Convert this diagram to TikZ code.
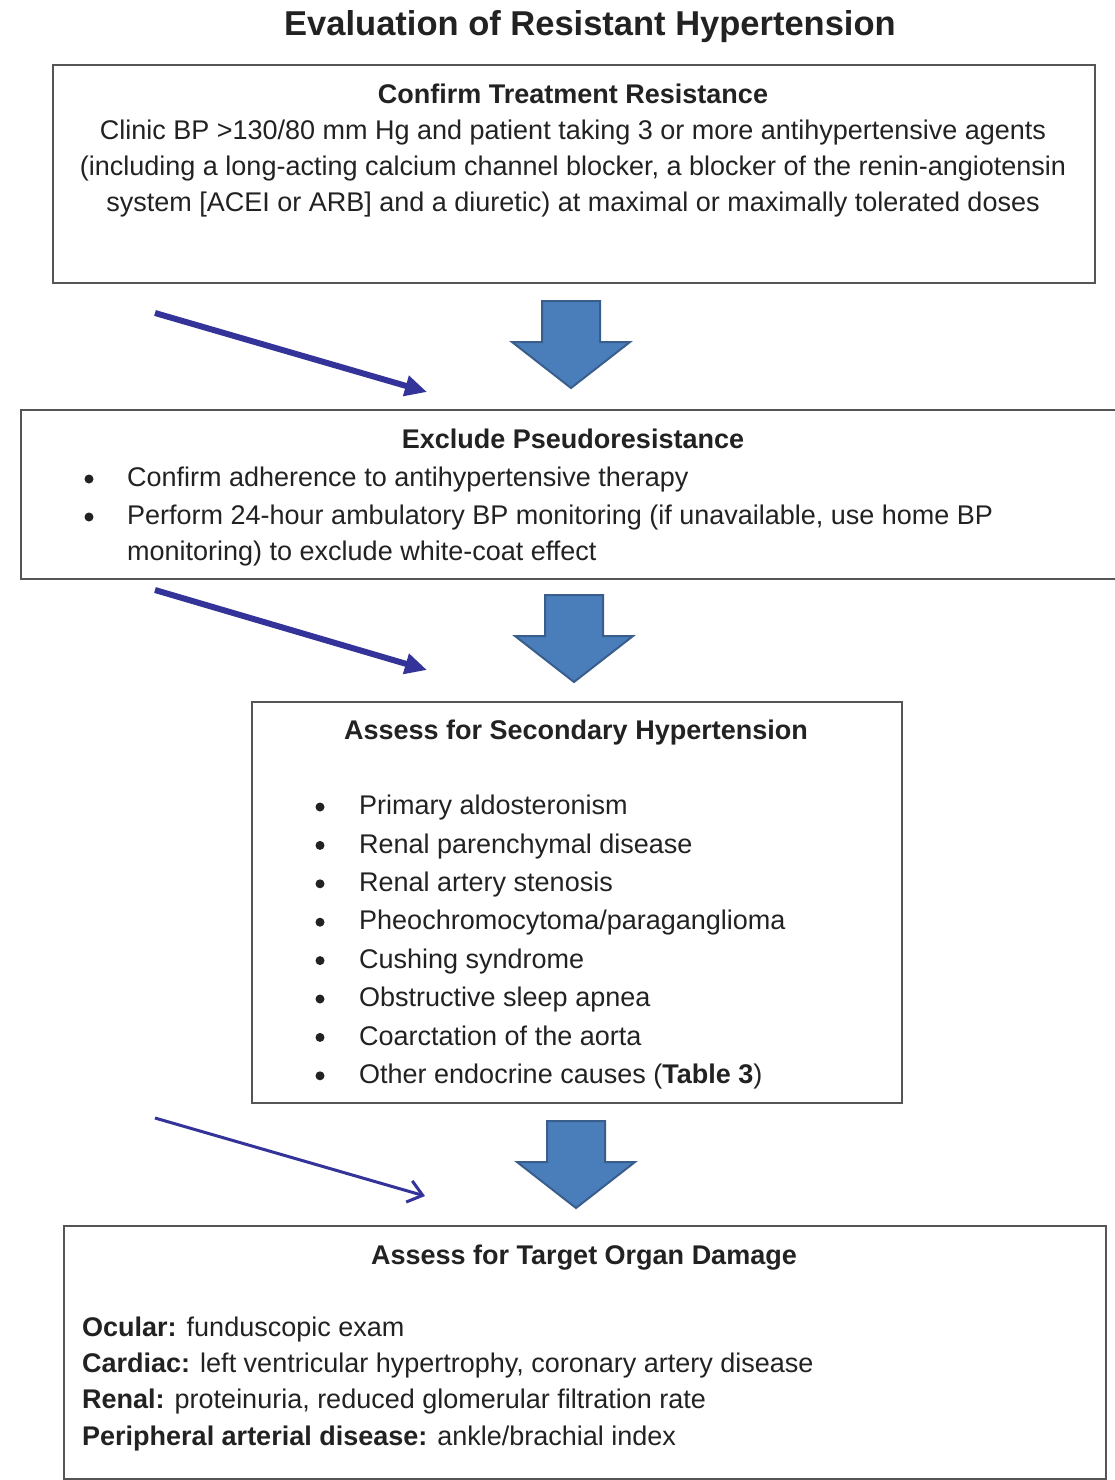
\documentclass[tikz,border=0pt]{standalone}
\usepackage{fontspec}
\setmainfont{Liberation Sans}
\usetikzlibrary{arrows.meta}
\definecolor{boxline}{HTML}{555555}
\definecolor{bigfill}{HTML}{4A7EBB}
\definecolor{bigedge}{HTML}{3A5E8C}
\definecolor{thinblue}{HTML}{33339A}
\definecolor{txt}{HTML}{222222}
\begin{document}
\begin{tikzpicture}[x=1pt,y=-1pt,
  box/.style={draw=boxline,line width=1.6pt,fill=white,anchor=north west,inner sep=0pt},
  ln/.style={anchor=mid,inner sep=0pt,text=txt,font=\fontsize{27}{32}\selectfont},
  lnl/.style={ln,anchor=mid west},
  hd/.style={ln,font=\fontsize{27}{32}\selectfont\bfseries},
  bul/.style={circle,fill=txt,inner sep=0pt,minimum size=9pt},
  bigarrow/.style={fill=bigfill,draw=bigedge,line width=2pt,line join=miter},
  thickarr/.style={draw=thinblue,line width=6pt,-{Triangle[length=22pt,width=20pt]}},
  thinarr/.style={draw=thinblue,line width=3pt,-{Straight Barb[length=14pt,width=22pt,line width=3pt]}}
]
\useasboundingbox[fill=white] (0,0) rectangle (1114,1480);

\node[ln,font=\fontsize{34.5}{40}\selectfont\bfseries] (title) at (590,33) {Evaluation of Resistant Hypertension};

% Box 1
\node[box,minimum width=1042pt,minimum height=218pt] (b1) at (52,64) {};
\node[hd] (b1h) at (573,101) {Confirm Treatment Resistance};
\node[ln] (b1l1) at (573,137) {Clinic BP >130/80 mm Hg and patient taking 3 or more antihypertensive agents};
\node[ln] (b1l2) at (573,173) {(including a long-acting calcium channel blocker, a blocker of the renin-angiotensin};
\node[ln] (b1l3) at (573,209) {system [ACEI or ARB] and a diuretic) at maximal or maximally tolerated doses};

% Box 2
\node[box,minimum width=1110pt,minimum height=169pt] (b2) at (20,409) {};
\node[hd] (b2h) at (573,446) {Exclude Pseudoresistance};
\node[bul] (b2d1) at (89,479) {};
\node[lnl] (b2l1) at (127,484) {Confirm adherence to antihypertensive therapy};
\node[bul] (b2d2) at (89,517) {};
\node[lnl] (b2l2) at (127,522) {Perform 24-hour ambulatory BP monitoring (if unavailable, use home BP};
\node[lnl] (b2l3) at (127,558) {monitoring) to exclude white-coat effect};

% Box 3
\node[box,minimum width=650pt,minimum height=401pt] (b3) at (251,701) {};
\node[hd] (b3h) at (576,737) {Assess for Secondary Hypertension};
\foreach \t [count=\i] in {Primary aldosteronism,Renal parenchymal disease,Renal artery stenosis,Pheochromocytoma/paraganglioma,Cushing syndrome,Obstructive sleep apnea,Coarctation of the aorta,{Other endocrine causes (\textbf{Table 3})}}{
  \node[bul] (b3d\i) at (320,{807+38.4*(\i-1)}) {};
  \node[lnl] (b3l\i) at (359,{812+38.4*(\i-1)}) {\t};
}

% Box 4
\node[box,minimum width=1042pt,minimum height=253pt] (b4) at (63,1225) {};
\node[hd] (b4h) at (584,1262) {Assess for Target Organ Damage};
\node[lnl] (b4l1) at (82,1334) {\textbf{Ocular:} funduscopic exam};
\node[lnl] (b4l2) at (82,1370) {\textbf{Cardiac:} left ventricular hypertrophy, coronary artery disease};
\node[lnl] (b4l3) at (82,1406) {\textbf{Renal:} proteinuria, reduced glomerular filtration rate};
\node[lnl] (b4l4) at (82,1443) {\textbf{Peripheral arterial disease:} ankle/brachial index};

% Big block arrows
\foreach \cx/\top/\hy/\tip in {571/301/342/388, 574/595/636/682, 576/1121/1162/1208}{
  \draw[bigarrow] (\cx-29,\top) -- (\cx+29,\top) -- (\cx+29,\hy) -- (\cx+59,\hy)
    -- (\cx,\tip) -- (\cx-59,\hy) -- (\cx-29,\hy) -- cycle;
}

% Thin diagonal arrows
\coordinate (a1s) at (155,313); \coordinate (a1e) at (427,392);
\coordinate (a2s) at (155,590); \coordinate (a2e) at (427,670);
\coordinate (a3s) at (155,1118); \coordinate (a3e) at (425,1196);
\draw[thickarr] (a1s) -- (a1e);
\draw[thickarr] (a2s) -- (a2e);
\draw[thinarr] (a3s) -- (a3e);
\end{tikzpicture}
\end{document}
